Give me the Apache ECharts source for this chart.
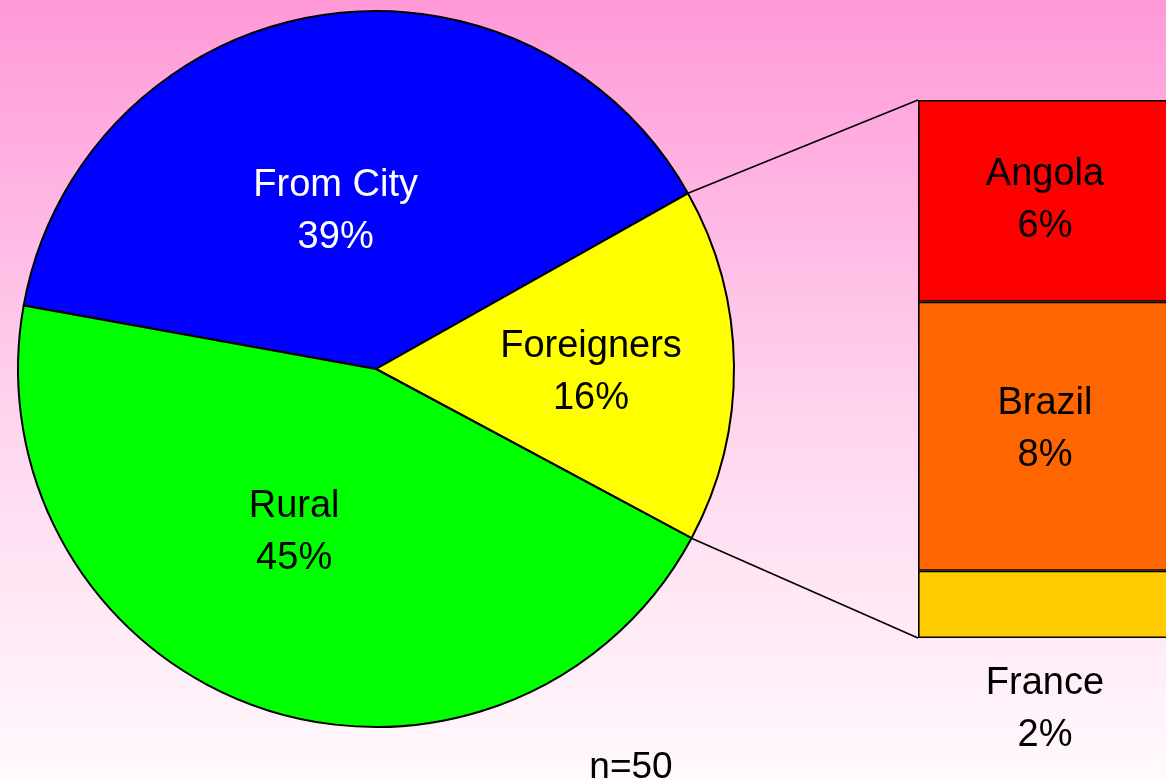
<!DOCTYPE html>
<html>
<head>
<meta charset="utf-8">
<style>
  html, body { margin: 0; padding: 0; }
  #chart { width: 1166px; height: 780px; }
</style>
<script src="https://cdn.jsdelivr.net/npm/echarts@6/dist/echarts.min.js"></script>
</head>
<body>
<div id="chart"></div>
<script>
// main pie
const pieNames = ['From City', 'Foreigners', 'Rural']
const pieValues = [39, 16, 45]
const pieColors = ['#0000ff', '#ffff00', '#00ff00']
const pieLabelColors = ['#ffffff', '#000000', '#000000']

// breakdown of Foreigners (top to bottom)
const barNames = ['Angola', 'Brazil', 'France']
const barValues = [6, 8, 2]
const barColors = ['#ff0000', '#ff6600', '#ffcc00']

const note = 'n=50'

const FONT = '"Liberation Sans", Arial, sans-serif'
const center = [376, 369]
const radius = 358
const startAngle = 169.8
// bar runs off the right edge of the page, as in the original slide
const gridBox = { left: 918, top: 100, width: 272, height: 538 }

const chart = echarts.init(document.getElementById('chart'))

const labelOffsets = [[-10, 22], [33, 5], [-22, -8]]

const barTotal = barValues.reduce((a, b) => a + b, 0)

// stack from bottom up, so reverse the top-to-bottom order
const barSeries = barNames.map((name, i) => ({ name, value: barValues[i], color: barColors[i] }))
  .reverse()
  .map(item => ({
    name: item.name,
    type: 'bar',
    stack: 'f',
    barWidth: '100%',
    data: [item.value],
    itemStyle: { color: item.color, borderColor: '#000', borderWidth: 1.6 },
    label: {
      show: true,
      position: item.name === 'France' ? 'bottom' : 'inside',
      distance: 20,
      offset: item.name === 'Brazil' ? [-9, -7] : [-9, 0],
      formatter: item.name + '\n' + item.value + '%',
      color: '#000',
      fontFamily: FONT,
      fontSize: 38,
      lineHeight: 52
    },
    silent: true
  }))

const option = {
  backgroundColor: new echarts.graphic.LinearGradient(0, 0, 0, 1, [
    { offset: 0, color: '#ff99d8' },
    { offset: 0.55, color: '#ffd6ee' },
    { offset: 1, color: '#fff9fd' }
  ]),
  animation: false,
  title: {
    text: note,
    left: 626,
    top: 744,
    textAlign: 'center',
    textStyle: { fontFamily: FONT, fontSize: 37, fontWeight: 'normal', color: '#000' }
  },
  grid: {
    left: gridBox.left,
    top: gridBox.top,
    width: gridBox.width,
    height: gridBox.height,
    outerBoundsMode: 'none'
  },
  xAxis: { type: 'category', data: ['Foreigners'], show: false },
  yAxis: { type: 'value', min: 0, max: barTotal, show: false },
  series: [
    {
      type: 'pie',
      center: center,
      radius: radius,
      startAngle: startAngle,
      clockwise: true,
      silent: true,
      label: {
        show: true,
        position: 'inside',
        formatter: '{b}\n{d}%',
        fontFamily: FONT,
        fontSize: 38,
        lineHeight: 52
      },
      labelLine: { show: false },
      itemStyle: { borderColor: '#000', borderWidth: 2 },
      data: pieNames.map((name, i) => ({
        name,
        value: pieValues[i],
        itemStyle: { color: pieColors[i] },
        label: { color: pieLabelColors[i], offset: labelOffsets[i] }
      }))
    },
    ...barSeries
  ]
}

chart.setOption(option)

// connector lines from the Foreigners slice edges to the stacked bar
const pieTotal = pieValues.reduce((a, b) => a + b, 0)
const a1 = (startAngle - 360 * pieValues[0] / pieTotal) * Math.PI / 180
const a2 = a1 - 360 * pieValues[1] / pieTotal * Math.PI / 180
const edge = a => [center[0] + radius * Math.cos(a), center[1] - radius * Math.sin(a)]
const topY = chart.convertToPixel({ gridIndex: 0 }, [0, barTotal])[1]
const botY = chart.convertToPixel({ gridIndex: 0 }, [0, 0])[1]
const p1 = edge(a1)
const p2 = edge(a2)

chart.setOption({
  graphic: [
    { type: 'line', shape: { x1: p1[0], y1: p1[1], x2: gridBox.left, y2: topY }, style: { stroke: '#000', lineWidth: 1.6 } },
    { type: 'line', shape: { x1: p2[0], y1: p2[1], x2: gridBox.left, y2: botY }, style: { stroke: '#000', lineWidth: 1.6 } }
  ]
})
</script>
</body>
</html>
